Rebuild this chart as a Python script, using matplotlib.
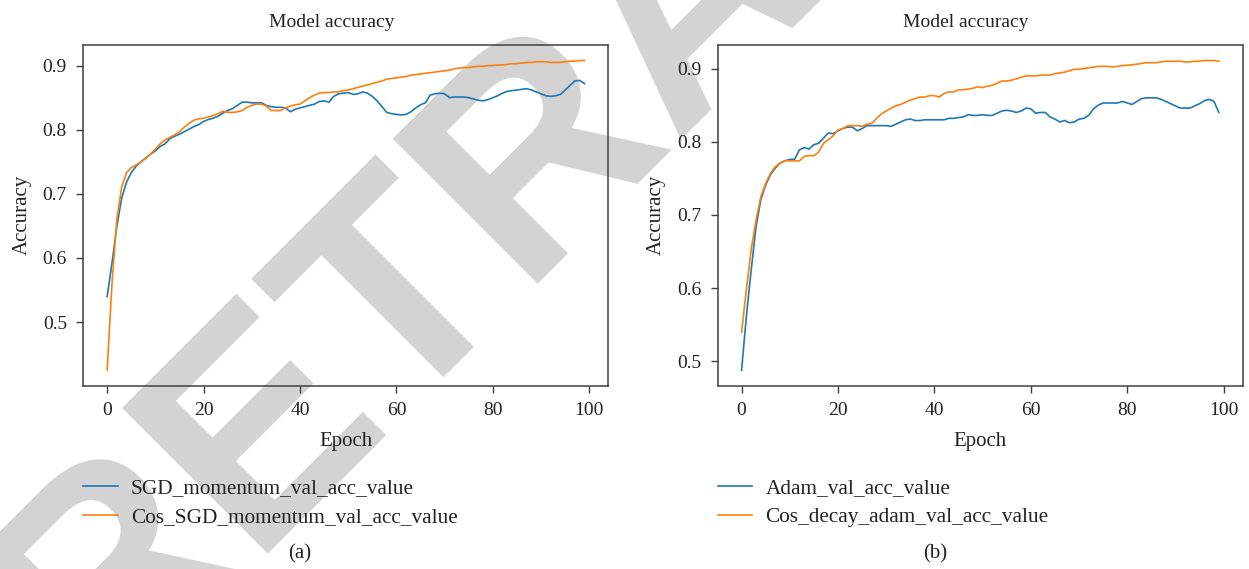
import matplotlib
matplotlib.use("Agg")
import matplotlib.pyplot as plt
import numpy as np

epochs = list(range(100))

sgd_momentum = [0.540, 0.592, 0.649, 0.693, 0.718, 0.733, 0.743, 0.750, 0.756, 0.762,
                0.767, 0.774, 0.778, 0.786, 0.790, 0.793, 0.797, 0.801, 0.805, 0.808,
                0.813, 0.816, 0.818, 0.821, 0.826, 0.830, 0.833, 0.838, 0.843, 0.843,
                0.842, 0.842, 0.842, 0.838, 0.836, 0.835, 0.835, 0.834, 0.828, 0.832,
                0.834, 0.836, 0.838, 0.840, 0.844, 0.845, 0.843, 0.852, 0.856, 0.857,
                0.858, 0.855, 0.856, 0.859, 0.857, 0.852, 0.845, 0.836, 0.827, 0.825,
                0.824, 0.823, 0.824, 0.828, 0.834, 0.839, 0.842, 0.854, 0.856, 0.857,
                0.856, 0.850, 0.851, 0.851, 0.851, 0.850, 0.848, 0.846, 0.845, 0.847,
                0.850, 0.853, 0.857, 0.860, 0.861, 0.862, 0.863, 0.864, 0.862, 0.859,
                0.856, 0.853, 0.852, 0.853, 0.855, 0.862, 0.869, 0.876, 0.877, 0.872]

cos_sgd_momentum = [0.425, 0.560, 0.660, 0.710, 0.733, 0.741, 0.745, 0.750, 0.755, 0.762,
                    0.770, 0.778, 0.784, 0.788, 0.792, 0.797, 0.804, 0.810, 0.815, 0.817,
                    0.818, 0.820, 0.822, 0.825, 0.829, 0.827, 0.827, 0.828, 0.830, 0.835,
                    0.838, 0.840, 0.840, 0.837, 0.830, 0.830, 0.830, 0.834, 0.837, 0.839,
                    0.840, 0.845, 0.850, 0.854, 0.857, 0.858, 0.858, 0.859, 0.859, 0.861,
                    0.862, 0.864, 0.866, 0.868, 0.870, 0.872, 0.874, 0.876, 0.879, 0.880,
                    0.881, 0.882, 0.883, 0.885, 0.886, 0.887, 0.888, 0.889, 0.890, 0.891,
                    0.892, 0.893, 0.895, 0.896, 0.897, 0.897, 0.898, 0.899, 0.899, 0.900,
                    0.900, 0.901, 0.901, 0.902, 0.903, 0.903, 0.904, 0.905, 0.905, 0.906,
                    0.906, 0.906, 0.905, 0.905, 0.905, 0.906, 0.907, 0.907, 0.908, 0.908]

adam = [0.488, 0.562, 0.625, 0.684, 0.721, 0.741, 0.755, 0.764, 0.771, 0.774,
        0.776, 0.776, 0.789, 0.792, 0.790, 0.796, 0.798, 0.805, 0.812, 0.811,
        0.815, 0.818, 0.820, 0.820, 0.815, 0.818, 0.822, 0.822, 0.822, 0.822,
        0.822, 0.821, 0.824, 0.827, 0.830, 0.831, 0.829, 0.829, 0.830, 0.830,
        0.830, 0.830, 0.830, 0.832, 0.832, 0.833, 0.834, 0.837, 0.836, 0.836,
        0.837, 0.836, 0.836, 0.839, 0.842, 0.843, 0.842, 0.840, 0.842, 0.846,
        0.845, 0.839, 0.840, 0.840, 0.834, 0.831, 0.827, 0.829, 0.826, 0.827,
        0.831, 0.832, 0.836, 0.845, 0.850, 0.853, 0.853, 0.853, 0.853, 0.855,
        0.853, 0.851, 0.855, 0.859, 0.860, 0.860, 0.860, 0.858, 0.855, 0.852,
        0.849, 0.846, 0.846, 0.846, 0.849, 0.852, 0.856, 0.858, 0.855, 0.840]

cos_decay_adam = [0.540, 0.598, 0.653, 0.693, 0.725, 0.743, 0.757, 0.766, 0.771, 0.774,
                  0.774, 0.774, 0.774, 0.780, 0.781, 0.781, 0.786, 0.798, 0.803, 0.808,
                  0.816, 0.818, 0.822, 0.822, 0.822, 0.821, 0.824, 0.825, 0.832, 0.838,
                  0.842, 0.846, 0.849, 0.851, 0.854, 0.857, 0.859, 0.861, 0.861, 0.863,
                  0.863, 0.861, 0.866, 0.868, 0.868, 0.871, 0.871, 0.872, 0.873, 0.875,
                  0.874, 0.876, 0.877, 0.880, 0.883, 0.883, 0.884, 0.886, 0.888, 0.890,
                  0.890, 0.890, 0.891, 0.891, 0.891, 0.893, 0.894, 0.895, 0.897, 0.899,
                  0.899, 0.900, 0.901, 0.902, 0.903, 0.903, 0.903, 0.902, 0.903, 0.904,
                  0.9045, 0.905, 0.906, 0.907, 0.908, 0.908, 0.908, 0.909, 0.910, 0.910,
                  0.910, 0.910, 0.909, 0.909, 0.910, 0.910, 0.911, 0.911, 0.911, 0.910]

titles = ["Model accuracy", "Model accuracy"]
labels_a = ["SGD_momentum_val_acc_value", "Cos_SGD_momentum_val_acc_value"]
labels_b = ["Adam_val_acc_value", "Cos_decay_adam_val_acc_value"]
panel_tags = ["(a)", "(b)"]
xticks = [0, 20, 40, 60, 80, 100]
yticks_a = [0.5, 0.6, 0.7, 0.8, 0.9]
yticks_b = [0.5, 0.6, 0.7, 0.8, 0.9]

BLUE = "#1f77b4"
ORANGE = "#ff7f0e"
FRAME = "#404040"
TEXT = "#222222"
SERIF = ["Liberation Serif", "DejaVu Serif"]

plt.rcParams["font.family"] = SERIF

W, H = 1249, 569
fig = plt.figure(figsize=(W / 100, H / 100), dpi=100)
fig.patch.set_facecolor("white")

# retraction watermark behind everything
fig.text(96 / W, 1 - 706 / H, "RETRACTED", rotation=45, rotation_mode="anchor",
         ha="left", va="baseline", fontsize=215, fontweight="bold",
         family="Liberation Sans", color="#d3d3d3", zorder=-10)

ax_w = 525 / W
ax_h = 340.7 / H
ax_b = (H - 385.7) / H
axa = fig.add_axes([83.3 / W, ax_b, ax_w, ax_h])
axb = fig.add_axes([717.7 / W, ax_b, ax_w, ax_h])

panels = [
    (axa, sgd_momentum, cos_sgd_momentum, labels_a, yticks_a),
    (axb, adam, cos_decay_adam, labels_b, yticks_b),
]

for i, (ax, s1, s2, labs, yt) in enumerate(panels):
    ax.set_facecolor("none")
    ax.plot(epochs, s1, color=BLUE, lw=1.2, label=labs[0])
    ax.plot(epochs, s2, color=ORANGE, lw=1.2, label=labs[1])
    ax.set_xticks(xticks)
    ax.set_yticks(yt)
    ax.set_yticklabels([f"{v:.1f}" for v in yt])
    ax.tick_params(axis="both", labelsize=14, length=5.3, width=1.0,
                   color=FRAME, pad=6.5, labelcolor=TEXT)
    for sp in ax.spines.values():
        sp.set_color(FRAME)
        sp.set_linewidth(1.1)
    ax.set_title(titles[i], fontsize=14, pad=13, x=0.5 - 14 / 525, color=TEXT)
    ax.set_xlabel("Epoch", fontsize=15, labelpad=9, color=TEXT)
    ax.set_ylabel("Accuracy", fontsize=15, labelpad=8, color=TEXT)
    leg = ax.legend(loc="upper left", bbox_to_anchor=(0.0, -0.273), frameon=False,
                    fontsize=15.3, handlelength=1.62, handletextpad=0.62,
                    labelspacing=0.4, borderpad=0, borderaxespad=0)
    for t in leg.get_texts():
        t.set_color(TEXT)

fig.text(300 / W, 1 - 554 / H, panel_tags[0], ha="center", va="center", fontsize=15, color=TEXT)
fig.text(935 / W, 1 - 554 / H, panel_tags[1], ha="center", va="center", fontsize=15, color=TEXT)

fig.savefig("out.png", dpi=100, facecolor="white")
